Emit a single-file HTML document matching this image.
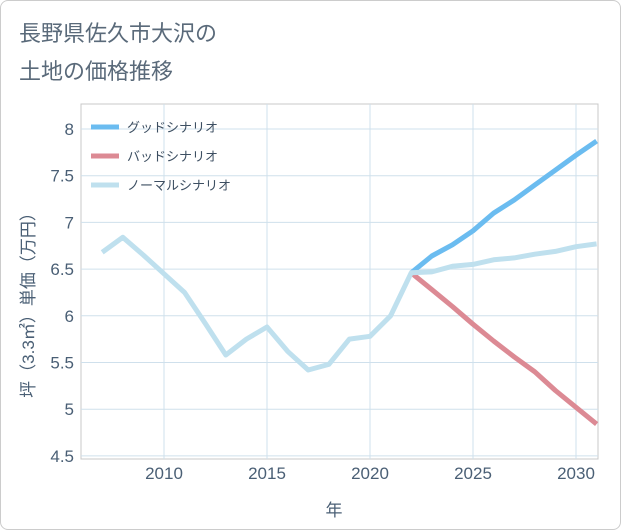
<!DOCTYPE html>
<html><head><meta charset="utf-8"><style>
body{margin:0;background:#fff;}
#card{position:absolute;left:0;top:0;width:619px;height:528px;border:1px solid #ccc;border-radius:8px;background:#fff;overflow:hidden;font-family:"Liberation Sans","Noto Sans CJK JP",sans-serif;}
</style></head><body>
<div id="card">
<svg id="chart" width="621" height="530"></svg>
</div>
<script>
const years=[2007,2008,2009,2010,2011,2012,2013,2014,2015,2016,2017,2018,2019,2020,2021,2022,2023,2024,2025,2026,2027,2028,2029,2030,2031];
const normalVals=[6.68,6.84,6.65,6.45,6.25,5.92,5.58,5.75,5.88,5.62,5.42,5.48,5.75,5.78,6.0,6.46,6.47,6.53,6.55,6.6,6.62,6.66,6.69,6.74,6.77];
const futureYears=[2022,2023,2024,2025,2026,2027,2028,2029,2030,2031];
const goodVals=[6.46,6.64,6.76,6.91,7.1,7.24,7.4,7.56,7.72,7.87];
const badVals=[6.46,6.28,6.1,5.91,5.73,5.56,5.4,5.2,5.02,4.84];
const yTicks=[4.5,5,5.5,6,6.5,7,7.5,8];
const xTicks=[2010,2015,2020,2025,2030];
const NS='http://www.w3.org/2000/svg';
const svg=document.getElementById('chart');
const L=80,R=597,T=103,B=458;
const TXT='#4a5f75';
const xs=y=>163+(y-2010)*20.6;
const ys=v=>128+(8-v)*93.4;
function mk(t,a,p){const e=document.createElementNS(NS,t);for(const k in a)e.setAttribute(k,a[k]);(p||svg).appendChild(e);return e;}
let e;
e=mk('text',{x:18,y:40,'font-size':22,fill:'#5a6a7a'});e.textContent='長野県佐久市大沢の';


e=mk('text',{x:18,y:78,'font-size':22,fill:'#5a6a7a'});e.textContent='土地の価格推移';


e=mk('rect',{x:L,y:T,width:R-L,height:B-T,fill:'none',stroke:'#c8c8c8'});


yTicks.forEach(v=>{
 e=mk('line',{x1:L,x2:R,y1:ys(v),y2:ys(v),stroke:'#cfe0ec'});
 
 
 e=mk('text',{x:73,y:ys(v)+6,'font-size':17,fill:TXT,'text-anchor':'end'});e.textContent=v;
 
 
});
xTicks.forEach(v=>{
 e=mk('line',{x1:xs(v),x2:xs(v),y1:T,y2:B,stroke:'#cfe0ec'});
 
 
 e=mk('text',{x:xs(v),y:478,'font-size':17,fill:TXT,'text-anchor':'middle'});e.textContent=v;
 
 
});
e=mk('text',{x:333,y:515,'font-size':17,fill:TXT,'text-anchor':'middle'});e.textContent='年';


e=mk('text',{x:0,y:0,'font-size':17,fill:TXT,'text-anchor':'middle',transform:'translate(33,300) rotate(-90)'});e.textContent='坪（3.3㎡）単価（万円）';


function line(xa,va,color,name){
 const d=xa.map((y,i)=>(i?'L':'M')+xs(y).toFixed(1)+' '+ys(va[i]).toFixed(1)).join(' ');
 const p=mk('path',{d:d,fill:'none',stroke:color,'stroke-width':5,'stroke-linejoin':'round'});
 
 
}
line(futureYears,badVals,'#dc8a94','bad-scenario-line');
line(futureYears,goodVals,'#6bbcf0','good-scenario-line');
line(years,normalVals,'#bfe0ee','normal-scenario-line');
const legend=[['グッドシナリオ','#6bbcf0'],['バッドシナリオ','#dc8a94'],['ノーマルシナリオ','#bfe0ee']];
legend.forEach((l,i)=>{
 const g=mk('g',{});
 
 
 mk('line',{x1:90,x2:118,y1:126+i*29,y2:126+i*29,stroke:l[1],'stroke-width':5},g);
 const t=mk('text',{x:126,y:131+i*29,'font-size':13,fill:'#3d4f62'},g);t.textContent=l[0];
});
</script>
</body></html>
